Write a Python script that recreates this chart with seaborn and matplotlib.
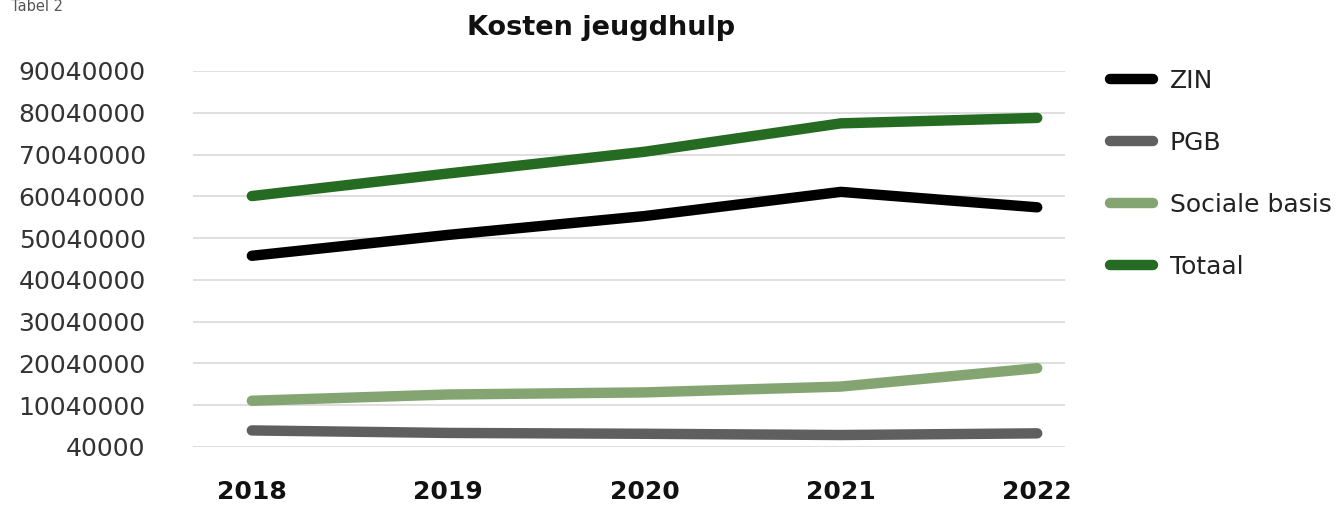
import matplotlib
matplotlib.use("Agg")
import matplotlib.pyplot as plt
from matplotlib.lines import Line2D
import seaborn as sns
import pandas as pd

years = ["2018", "2019", "2020", "2021", "2022"]
zin = [45.8e6, 50.8e6, 55.3e6, 61.1e6, 57.4e6]
pgb = [4.0e6, 3.4e6, 3.2e6, 2.9e6, 3.3e6]
sociale_basis = [11.1e6, 12.6e6, 13.1e6, 14.5e6, 18.9e6]
totaal = [60.1e6, 65.5e6, 70.7e6, 77.5e6, 78.8e6]
series_names = ["ZIN", "PGB", "Sociale basis", "Totaal"]
y_ticks = [40000 + 10000000 * i for i in range(10)]
colors = {"ZIN": "#000000", "PGB": "#5f5f5f", "Sociale basis": "#84a572", "Totaal": "#256b22"}

df = pd.DataFrame({
    "jaar": years * 4,
    "serie": sum([[n] * len(years) for n in series_names], []),
    "kosten": zin + pgb + sociale_basis + totaal,
})

sns.set_theme(style="white")
plt.rcParams["font.family"] = ["DejaVu Sans"]

fig = plt.figure(figsize=(13.4, 5.05), dpi=100)
ax = fig.add_axes([0.144, 0.1149, 0.651, 0.7446])

sns.lineplot(data=df, x="jaar", y="kosten", hue="serie", hue_order=series_names,
             palette=colors, linewidth=7.5, solid_capstyle="round", legend=False,
             sort=False, ax=ax)

ax.set_xlim(-0.30, 4.143)
ax.set_ylim(40000, 90040000)
ax.set_yticks(y_ticks)
ax.set_yticklabels([str(v) for v in y_ticks], fontsize=18, color="#333333")
ax.set_xticks(range(len(years)))
ax.set_xticklabels(years, fontsize=18, fontweight="bold", color="#111111")
ax.tick_params(axis="y", length=0, pad=34)
ax.tick_params(axis="x", length=0, pad=24)
ax.grid(axis="y", color="#d9d9d9", linewidth=1.2)
ax.grid(axis="x", visible=False)
ax.set_axisbelow(True)
for s in ax.spines.values():
    s.set_visible(False)
ax.set_xlabel("")
ax.set_ylabel("")

fig.text(601 / 1340, 1 - 28 / 505, "Kosten jeugdhulp", ha="center", va="center",
         fontsize=19.5, fontweight="bold", color="#111111")
fig.text(0.008, 1 - 11 / 505, "Tabel 2", ha="left", va="baseline", fontsize=10.5, color="#555555")

handles = [Line2D([0], [0], color=colors[n], lw=7.5, solid_capstyle="round") for n in series_names]
fig.legend(handles, series_names, loc="upper left", bbox_to_anchor=(1110 / 1340, 1 - 69 / 505),
           bbox_transform=fig.transFigure, frameon=False, fontsize=18, handlelength=1.7,
           handletextpad=0.7, labelspacing=1.52, borderpad=0, borderaxespad=0,
           labelcolor="#222222")

fig.savefig("out.png", dpi=100)
